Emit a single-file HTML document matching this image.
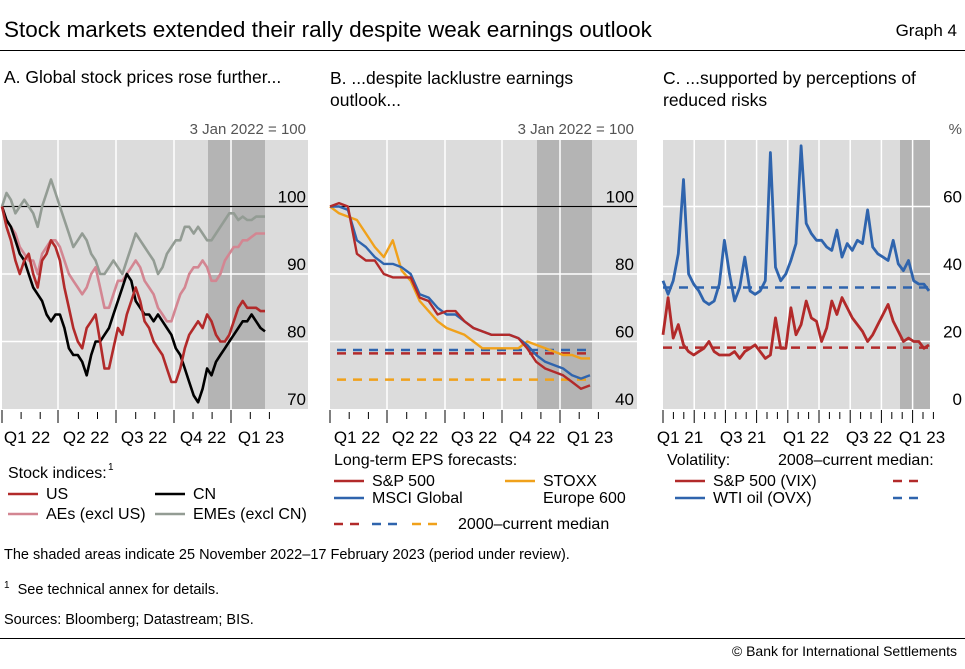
<!DOCTYPE html>
<html><head><meta charset="utf-8">
<style>
body{margin:0;background:#fff;font-family:"Liberation Sans",sans-serif;color:#000}
#wrap{position:relative;width:965px;height:669px;overflow:hidden}
.t{position:absolute;white-space:nowrap}
</style></head><body>
<div id="wrap">
<div class="t" style="left:4px;top:17px;font-size:22.5px">Stock markets extended their rally despite weak earnings outlook</div>
<div class="t" style="right:8px;top:21px;font-size:17px">Graph 4</div>
<div style="position:absolute;left:0;top:50px;width:965px;height:1px;background:#000"></div>
<div class="t" style="left:4px;top:67px;font-size:17.5px">A. Global stock prices rose further...</div>
<div class="t" style="left:330px;top:67px;font-size:17.5px;line-height:22px">B. ...despite lacklustre earnings<br>outlook...</div>
<div class="t" style="left:663px;top:67px;font-size:17.5px;line-height:22px">C. ...supported by perceptions of<br>reduced risks</div>
<svg width="965" height="669" style="position:absolute;left:0;top:0" id="svg"></svg>
<div class="t" style="left:4px;top:547px;font-size:14.5px">The shaded areas indicate 25 November 2022–17 February 2023 (period under review).</div>
<div class="t" style="left:4px;top:580px;font-size:14.5px"><sup style="font-size:10px">1</sup>&nbsp; See technical annex for details.</div>
<div class="t" style="left:4px;top:612px;font-size:14.5px">Sources: Bloomberg; Datastream; BIS.</div>
<div style="position:absolute;left:0;top:638px;width:965px;height:1px;background:#000"></div>
<div class="t" style="right:8px;top:643px;font-size:14px">© Bank for International Settlements</div>
</div>
<script>
// Panel A data (weekly, 3 Jan 2022 = 100)
const aUS=[100,97,95,92,90,92,93,90,88,92,93,95,94,92,88,85,82,80,79,82,83,84,80,76,76,79,82,81,84,86,88,86,83,82,80,79,78,76,74,74,76,79,81,82,83,82,84,83,81,80,80,81,83,85,86,85,85,85,84.5,84.5];
const aAEs=[100,98,97,96,94,93,92,92,90,93,94,95,95,94,92,90,89,88,87,88,90,91,88,85,85,87,89,89,90,91,92,91,89,88,87,85,84,83,83,85,87,88,90,91,91,92,91,89,89,90,92,93,94,94,95,95,95.5,96,96,96];
const aEMEs=[100,102,101,99,100,101,100,99,97,100,102,104,102,100,98,96,94,95,96,95,93,92,90,90,91,92,91,90,92,94,96,95,94,93,92,90,91,93,94,95,95,97,97,96,97,96,95,95,96,97,98,99,99,98,98.5,98,98,98.5,98.5,98.5];
const aCN=[100,98,97,95,93,92,90,88,87,86,84,83,84,84,82,79,78,78,77,75,78,80,80,81,82,84,86,88,90,89,86,85,84,84,83,84,83,82,81,79,78,76,74,72,71,73,76,75,77,78,79,80,81,82,83,83,84,83,82,81.5];
const aTicks=[70,80,90,100];
const aQuarters=["Q1 22","Q2 22","Q3 22","Q4 22","Q1 23"];
// Panel B data
const bSP=[100,101,100,86,84,84,80,79,79,79,73,72,68,69,69,66,64,63,62,62,62,61,58,54,52,51,50,48,46,47];
const bMSCI=[100,100,99,90,88,85,83,83,82,80,74,73,70,68,68,66,64,63,62,62,62,61,59,56,54,53,52,50,49,50];
const bSTOXX=[100,98,97,96,92,88,85,90,81,78,72,69,66,64,63,62,60,58,58,58,58,58,60,59,58,57,56,56,55,55];
const bMedians=[56.5,57.5,48.7];
const bTicks=[40,60,80,100];
// Panel C data
const cVIX=[22,33,21,25,19,17,16,17,18,20,17,16,16,16,17,15,17,18,19,17,15,16,27,18,18,30,22,25,32,27,26,20,24,32,28,33,30,27,25,23,20,22,25,28,31,26,23,20,21,20,20,18,19];
const cOVX=[38,34,38,46,68,40,37,35,32,31,32,37,50,40,32,36,45,35,34,35,38,76,42,38,40,44,49,78,55,52,50,50,48,47,53,45,49,47,50,49,59,48,46,45,44,50,43,41,44,38,37,37,35];
const cMedians=[18.2,36];
const cTicks=[0,20,40,60];
const cQuarters=["Q1 21","Q3 21","Q1 22","Q3 22","Q1 23"];

const svg=document.getElementById('svg');
const NS='http://www.w3.org/2000/svg';
function mk(tag,at,parent){const e=document.createElementNS(NS,tag);for(const k in at)e.setAttribute(k,at[k]);(parent||svg).appendChild(e);return e;}
function txt(x,y,s,size,anchor,fill){const e=mk('text',{x:x,y:y,'font-size':size,'text-anchor':anchor||'start',fill:fill||'#000','font-family':'Liberation Sans, sans-serif'});e.textContent=s;return e;}
const RED='#b22a2a',PINK='#d38692',GREY='#939c94',BLUE='#2f64ad',ORANGE='#f0a11b';

function panel(p){
  const bg=mk('rect',{x:p.x0,y:p.top,width:p.bgR-p.x0,height:p.y0-p.top,fill:'#dcdcdc'});
  
  
  const sh1=mk('rect',{x:p.shade[0],y:p.top,width:p.shade[1]-p.shade[0],height:p.y0-p.top,fill:'#b4b4b4'});
  
  
  const ys=v=>p.y0-(v-p.vmin)*p.ppu;
  p.ys=ys;
  p.vgrid.forEach(x=>{const g=mk('line',{x1:x,x2:x,y1:p.top,y2:p.y0,stroke:'#fff','stroke-width':1.5});
    
    });
  p.ticks.forEach(v=>{const y=ys(v);
    if(v!==p.vmin){const g=mk('line',{x1:p.x0,x2:p.bgR,y1:y,y2:y,stroke:'#fff','stroke-width':1.5});
      
      }
    const t=txt(p.labX,y-4,String(v),17,'end');
    
    });
  if(p.ref!==undefined){const r=mk('line',{x1:p.x0,x2:p.bgR,y1:ys(p.ref),y2:ys(p.ref),stroke:'#000','stroke-width':1.3});
    
    }
  p.major.forEach(x=>{const l=mk('line',{x1:x,x2:x,y1:p.y0+1,y2:p.y0+14,stroke:'#000','stroke-width':1});
    
    });
  p.minor.forEach(x=>{const l=mk('line',{x1:x,x2:x,y1:p.y0+3,y2:p.y0+10,stroke:'#000','stroke-width':1});
    
    });
  p.qlabels.forEach((s,i)=>{const t=txt(p.qx[i],p.y0+34,s,17,'middle');
    
    });
}
function series(p,arr,color,name,w){
  const n=arr.length;const pts=arr.map((v,i)=>(p.dx0+i*(p.dx1-p.dx0)/(n-1)).toFixed(1)+','+p.ys(v).toFixed(1)).join(' ');
  const l=mk('polyline',{points:pts,fill:'none',stroke:color,'stroke-width':w||2.6,'stroke-linejoin':'round'});
  
  
}
function median(p,v,color,name,x0,x1){
  const l=mk('line',{x1:x0,x2:x1,y1:p.ys(v),y2:p.ys(v),stroke:color,'stroke-width':2.5,'stroke-dasharray':'9,7'});
  
  
}

// Panel A
const A={id:'panel-a',x0:2,bgR:308,top:140,y0:409,vmin:70,ppu:6.75,ticks:aTicks,ref:100,labX:306,
  vgrid:[58,116,174,231],shade:[208,265],
  major:[2,58,116,174,231],minor:[],qlabels:aQuarters,qx:[27,86,144,203,261],dx0:2,dx1:265};
for(let q=0;q<5;q++){for(let m=1;m<3;m++){A.minor.push(2+q*57.3+m*19.1);}}
A.minor=A.minor.filter(x=>x<275);
panel(A);
series(A,aEMEs,GREY,'series-emes');
series(A,aAEs,PINK,'series-aes');
series(A,aCN,'#000','series-cn');
series(A,aUS,RED,'series-us');
txt(306,134,'3 Jan 2022 = 100',15,'end','#555');

// Panel B
const B={id:'panel-b',x0:330,bgR:637,top:140,y0:409,vmin:40,ppu:3.375,ticks:bTicks,ref:100,labX:634,
  vgrid:[387,445,502,560],shade:[537,592],major:[330,387,445,502,560],minor:[],qlabels:aQuarters,
  qx:[357,415,474,532,590],dx0:330,dx1:590};
for(let q=0;q<5;q++){for(let m=1;m<3;m++){B.minor.push(330+q*57.5+m*19.2);}}
B.minor=B.minor.filter(x=>x<605);
panel(B);
median(B,bMedians[0],RED,'median-sp500',337,592);
median(B,bMedians[1],BLUE,'median-msci',337,592);
median(B,bMedians[2],ORANGE,'median-stoxx',337,592);
series(B,bSTOXX,ORANGE,'series-stoxx',2.4);
series(B,bMSCI,BLUE,'series-msci',2.4);
series(B,bSP,RED,'series-sp500',2.4);
txt(634,134,'3 Jan 2022 = 100',15,'end','#555');

// Panel C
const C={id:'panel-c',x0:663,bgR:930,top:140,y0:409,vmin:0,ppu:3.375,ticks:cTicks,labX:962,
  vgrid:[],shade:[900,930],major:[],minor:[],qlabels:cQuarters,qx:[680,743,806,869,922],dx0:663,dx1:929};
for(let q=0;q<9;q++){const x=663+q*31.2;C.major.push(x);if(q>0&&q<9)C.vgrid.push(x);C.minor.push(x+10.4,x+20.8);}
C.minor=C.minor.filter(x=>x<936);
panel(C);
median(C,cMedians[1],BLUE,'median-ovx',663,930);
median(C,cMedians[0],RED,'median-vix',663,930);
series(C,cOVX,BLUE,'series-ovx',2.8);
series(C,cVIX,RED,'series-vix',2.8);
txt(962,134,'%',15,'end','#555');

// Legends
function leg(x,y,color,label,dash){const l=mk('line',{x1:x,x2:x+30,y1:y,y2:y,stroke:color,'stroke-width':2.6});
  if(dash)l.setAttribute('stroke-dasharray','9,7');
  
  
  if(label){const t=txt(x+38,y+5,label,16);}}
txt(8,478,'Stock indices:',16);
txt(108,470,'1',10);
leg(8,494,RED,'US');leg(155,494,'#000','CN');
leg(8,514,PINK,'AEs (excl US)');leg(155,514,GREY,'EMEs (excl CN)');
txt(334,465,'Long-term EPS forecasts:',16);
leg(334,481,RED,'S&P 500');leg(334,498,BLUE,'MSCI Global');
leg(505,481,ORANGE,'STOXX');txt(543,503,'Europe 600',16);
leg(334,524,RED,'',true);leg(372,524,BLUE,'',true);leg(412,524,ORANGE,'',true);
txt(458,529,'2000–current median',16);
txt(667,465,'Volatility:',16);
txt(778,465,'2008–current median:',16);
leg(675,481,RED,'S&P 500 (VIX)');leg(675,498,BLUE,'WTI oil (OVX)');
leg(893,481,RED,'',true);leg(893,498,BLUE,'',true);
</script>
</body></html>
